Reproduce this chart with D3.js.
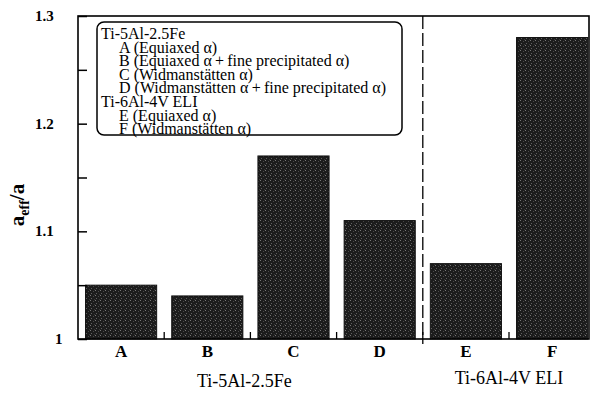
<!DOCTYPE html>
<html>
<head>
<meta charset="utf-8">
<script src="https://cdn.jsdelivr.net/npm/d3@7"></script>
<style>
  body { margin: 0; background: #fff; }
  text { font-family: "Liberation Serif", "DejaVu Serif", serif; fill: #000; }
</style>
</head>
<body>
<svg id="chart" width="592" height="394"></svg>
<script>
// Microstructure cases and their effective crack length ratio
const categories = ["A", "B", "C", "D", "E", "F"];
const values = [1.05, 1.04, 1.17, 1.11, 1.07, 1.28];
const groupNames = ["Ti-5Al-2.5Fe", "Ti-6Al-4V ELI"];
const groupMembers = [["A", "B", "C", "D"], ["E", "F"]];
const yMajorTicks = [1, 1.1, 1.2, 1.3];
const yMinorTicks = [1.05, 1.15, 1.25];
const yTickLabels = ["1", "1.1", "1.2", "1.3"];
const legendHeads = ["Ti-5Al-2.5Fe", "Ti-6Al-4V ELI"];
const legendItems = [
  ["A (Equiaxed α)", "B (Equiaxed α\u2009+\u2009fine precipitated α)", "C (Widmanstätten α)", "D (Widmanstätten α\u2009+\u2009fine precipitated α)"],
  ["E (Equiaxed α)", "F (Widmanstätten α)"]
];

const svg = d3.select("#chart");
const plot = { left: 78, top: 16, right: 589, bottom: 339 };

// halftone-like dark fill used for the bars
const defs = svg.append("defs");
const pat = defs.append("pattern")
  .attr("id", "screen").attr("patternUnits", "userSpaceOnUse")
  .attr("width", 5).attr("height", 5);
pat.append("rect").attr("width", 5).attr("height", 5).attr("fill", "#1c1c1c");
[[0, 0, "#777"], [3, 1, "#4a4a4a"], [1, 3, "#606060"], [4, 4, "#3a3a3a"]]
  .forEach(([x, y, c]) => pat.append("rect").attr("x", x).attr("y", y)
    .attr("width", 1).attr("height", 1).attr("fill", c));

const x = d3.scaleBand()
  .domain(categories)
  .range([plot.left, plot.left + 6 * 86.2])
  .paddingInner(0.175)
  .paddingOuter(0.0875);

const y = d3.scaleLinear().domain([1, 1.3]).range([plot.bottom, plot.top]);

// bars
svg.append("g").selectAll("rect")
  .data(categories.map((c, i) => ({ c, v: values[i] })))
  .join("rect")
  .attr("x", d => x(d.c))
  .attr("y", d => y(d.v))
  .attr("width", x.bandwidth())
  .attr("height", d => y(1) - y(d.v))
  .attr("fill", "url(#screen)")
  .attr("stroke", "#111")
  .attr("stroke-width", 1);

// frame
svg.append("rect")
  .attr("x", plot.left).attr("y", plot.top)
  .attr("width", plot.right - plot.left).attr("height", plot.bottom - plot.top)
  .attr("fill", "none").attr("stroke", "#000").attr("stroke-width", 1.6);

// y ticks pointing inward
const yAxis = d3.axisLeft(y)
  .tickValues([...yMajorTicks, ...yMinorTicks])
  .tickSize(-9)
  .tickPadding(0)
  .tickFormat(() => "");
const gy = svg.append("g").attr("transform", `translate(${plot.left},0)`).call(yAxis);
gy.select(".domain").remove();
gy.selectAll("line").attr("stroke", "#000").attr("stroke-width", 1.5);

svg.append("g").selectAll("text")
  .data(yMajorTicks)
  .join("text")
  .attr("x", (d, i) => yTickLabels[i].length === 1 ? 55 : 35)
  .attr("y", d => y(d) + 5)
  .attr("font-size", 15)
  .attr("font-weight", "bold")
  .text((d, i) => yTickLabels[i]);

// x ticks at the boundaries between bars
const step = x.step();
const boundaries = categories.slice(1).map(c => x(c) - (step - x.bandwidth()) / 2);
svg.append("g").selectAll("line")
  .data(boundaries)
  .join("line")
  .attr("x1", d => d).attr("x2", d => d)
  .attr("y1", plot.bottom).attr("y2", plot.bottom - 7)
  .attr("stroke", "#000").attr("stroke-width", 1.3);

// dashed divider between the two alloys
svg.append("line")
  .attr("x1", boundaries[3]).attr("x2", boundaries[3])
  .attr("y1", plot.top).attr("y2", plot.bottom + 5)
  .attr("stroke", "#000").attr("stroke-width", 1.3)
  .attr("stroke-dasharray", "13,4");

// category letters
svg.append("g").selectAll("text")
  .data(categories)
  .join("text")
  .attr("x", d => x(d) + x.bandwidth() / 2)
  .attr("y", 357)
  .attr("text-anchor", "middle")
  .attr("font-size", 17)
  .attr("font-weight", "bold")
  .text(d => d);

// alloy group labels
svg.append("g").selectAll("text")
  .data(groupNames)
  .join("text")
  .attr("x", (d, i) => {
    const m = groupMembers[i];
    return (x(m[0]) + x(m[m.length - 1]) + x.bandwidth()) / 2 - (i === 0 ? 6 : 0);
  })
  .attr("y", (d, i) => i === 0 ? 387 : 384)
  .attr("text-anchor", "middle")
  .attr("font-size", 18)
  .text(d => d);

// y axis title
const yt = svg.append("text")
  .attr("transform", "translate(24,205) rotate(-90)")
  .attr("text-anchor", "middle")
  .attr("font-size", 21)
  .attr("font-weight", "bold");
yt.append("tspan").text("a");
yt.append("tspan").attr("font-size", 14).attr("dy", 5).text("eff");
yt.append("tspan").attr("dy", -5).text("/a");

// legend
const lg = svg.append("g");
lg.append("rect")
  .attr("x", 97).attr("y", 22).attr("width", 305).attr("height", 113)
  .attr("rx", 7).attr("ry", 7)
  .attr("fill", "#fff").attr("stroke", "#000").attr("stroke-width", 1.5);
let row = 0;
legendHeads.forEach((h, gi) => {
  lg.append("text").attr("x", 101).attr("y", 39 + row * 13.6)
    .attr("font-size", 16).text(h);
  row++;
  legendItems[gi].forEach(t => {
    lg.append("text").attr("x", 119).attr("y", 39 + row * 13.6)
      .attr("font-size", 16).text(t);
    row++;
  });
});
</script>
</body>
</html>
